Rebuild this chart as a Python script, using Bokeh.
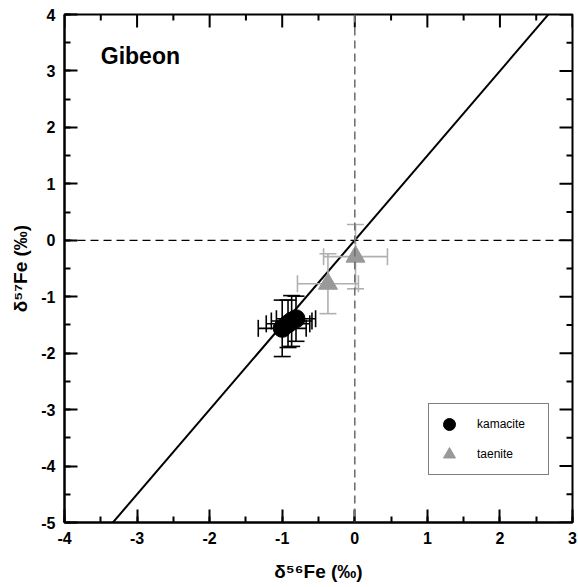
import numpy as np
from bokeh.plotting import figure
from bokeh.models import (Range1d, SingleIntervalTicker, PrintfTickFormatter, Span,
                          Legend, LegendItem, Label)
from bokeh.embed import file_html
from bokeh.resources import INLINE

# Gibeon iron meteorite: Fe isotope compositions (per mil)
kam_d56 = [-1.00, -0.92, -0.87, -0.81]
kam_d57 = [-1.56, -1.48, -1.43, -1.39]
kam_d56_err = [0.33, 0.30, 0.28, 0.27]
kam_d57_err = [0.50, 0.42, 0.45, 0.40]

tae_d56 = [-0.37, 0.01]
tae_d57 = [-0.77, -0.29]
tae_d56_err = [0.42, 0.44]
tae_d57_err = [0.53, 0.57]

# mass-dependent fractionation line, d57 = 1.5 * d56
fractionation_slope = 1.5
x_limits = [-4, 3]
y_limits = [-5, 4]
x_ticks = list(range(-4, 4))
y_ticks = list(range(-5, 5))

FONT = "Liberation Sans"

p = figure(width=578, height=587,
           x_range=Range1d(*x_limits), y_range=Range1d(*y_limits),
           output_backend="svg", toolbar_location=None,
           min_border_left=64, min_border_right=6,
           min_border_top=14, min_border_bottom=65)
p.xgrid.visible = False
p.ygrid.visible = False
p.outline_line_color = "black"
p.outline_line_width = 2
p.background_fill_color = "white"
p.border_fill_color = "white"

for ax in (p.xaxis[0], p.yaxis[0]):
    ax.ticker = SingleIntervalTicker(interval=1, num_minor_ticks=2)
    ax.formatter = PrintfTickFormatter(format="%d")
    ax.axis_line_color = "black"
    ax.axis_line_width = 2
    ax.major_tick_in = 13
    ax.major_tick_out = 0
    ax.minor_tick_in = 6
    ax.minor_tick_out = 0
    ax.major_tick_line_width = 2
    ax.minor_tick_line_width = 2
    ax.major_label_text_font = FONT
    ax.major_label_text_font_style = "bold"
    ax.major_label_text_color = "black"
    ax.major_label_text_font_size = "16px"
    ax.major_label_standoff = 9
    ax.axis_label_text_font = FONT
    ax.axis_label_text_font_style = "bold"
    ax.axis_label_text_font_size = "19px"
    ax.axis_label_text_color = "black"

p.xaxis[0].axis_label = "δ⁵⁶Fe (‰)"
p.yaxis[0].axis_label = "δ⁵⁷Fe (‰)"
p.xaxis[0].axis_label_standoff = 14
p.yaxis[0].axis_label_standoff = 7

# inward ticks mirrored on the top and right edges (clipped to the frame)
x_minor = [t + 0.5 for t in x_ticks]
y_minor = [t + 0.5 for t in y_ticks[:-1]]
p.scatter(x_ticks, [y_limits[1]] * len(x_ticks), marker="dash", angle=np.pi / 2,
          size=26, line_color="black", line_width=2)
p.scatter(x_minor, [y_limits[1]] * len(x_minor), marker="dash", angle=np.pi / 2,
          size=12, line_color="black", line_width=2)
p.scatter([x_limits[1]] * len(y_ticks), y_ticks, marker="dash",
          size=26, line_color="black", line_width=2)
p.scatter([x_limits[1]] * len(y_minor), y_minor, marker="dash",
          size=12, line_color="black", line_width=2)

# reference lines through the origin
p.add_layout(Span(location=0, dimension="width", line_color="black",
                  line_width=1.3, line_dash="8 5"))

x_line = np.array(x_limits, dtype=float)
p.line(x_line, fractionation_slope * x_line, line_color="black", line_width=2)


def error_bars(x, y, xe, ye, color, width):
    x = np.asarray(x); y = np.asarray(y)
    xe = np.asarray(xe); ye = np.asarray(ye)
    p.segment(x - xe, y, x + xe, y, line_color=color, line_width=width)
    p.segment(x, y - ye, x, y + ye, line_color=color, line_width=width)
    p.scatter(np.concatenate([x, x]), np.concatenate([y - ye, y + ye]),
              marker="dash", size=17, line_color=color, line_width=width)
    p.scatter(np.concatenate([x - xe, x + xe]), np.concatenate([y, y]),
              marker="dash", angle=np.pi / 2, size=17,
              line_color=color, line_width=width)


error_bars(tae_d56, tae_d57, tae_d56_err, tae_d57_err, "#b0b0b0", 1.6)
error_bars(kam_d56, kam_d57, kam_d56_err, kam_d57_err, "black", 1.6)

tae = p.scatter(tae_d56, tae_d57, marker="triangle", size=19,
                fill_color="#999999", line_color="#999999")
kam = p.scatter(kam_d56, kam_d57, marker="circle", size=18,
                fill_color="black", line_color="black")

p.add_layout(Span(location=0, dimension="height", line_color="#707070",
                  line_width=1.6, line_dash="8 5"))

p.add_layout(Label(x=-3.5, y=3.03, text="Gibeon", text_font=FONT,
                   text_font_style="bold", text_font_size="23px",
                   text_color="black"))

legend = Legend(items=[LegendItem(label="kamacite", renderers=[kam]),
                       LegendItem(label="taenite", renderers=[tae])],
                location=(364, 47), orientation="vertical")
legend.border_line_color = "black"
legend.border_line_width = 1.5
legend.background_fill_color = "white"
legend.background_fill_alpha = 1
legend.label_text_font = FONT
legend.label_text_font_size = "12px"
legend.label_text_color = "black"
legend.padding = 5
legend.spacing = -5
legend.margin = 0
legend.glyph_height = 30
legend.glyph_width = 30
legend.label_standoff = 13
legend.label_width = 66
legend.label_height = 30
p.add_layout(legend)

open("out.html", "w").write(file_html(p, INLINE))
